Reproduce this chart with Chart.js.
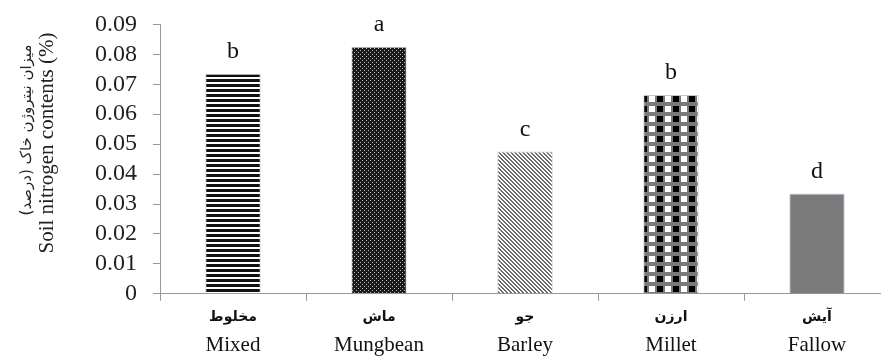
<!DOCTYPE html>
<html>
<head>
<meta charset="utf-8">
<script src="https://cdn.jsdelivr.net/npm/chart.js@4.4.0/dist/chart.umd.min.js"></script>
<style>
  html, body { margin: 0; padding: 0; background: #fff; overflow: hidden; }
  #wrap { width: 892px; height: 369px; margin-top: -6px; }
</style>
</head>
<body>
<div id="wrap"><canvas id="grafico"></canvas></div>
<script>
const rotulosFa = ['مخلوط', 'ماش', 'جو', 'ارزن', 'آیش'];
const rotulosEn = ['Mixed', 'Mungbean', 'Barley', 'Millet', 'Fallow'];
const nitrogenio = [0.0735, 0.0825, 0.0475, 0.0665, 0.0335];
const letras = ['b', 'a', 'c', 'b', 'd'];
const tituloFa = 'میزان نیتروژن خاک (درصد)';
const tituloEn = 'Soil nitrogen contents (%)';

// padrões de preenchimento (texturas em preto e branco)
function padrao(w, h, pintar) {
    const c = document.createElement('canvas');
    c.width = w; c.height = h;
    const g = c.getContext('2d');
    pintar(g, w, h);
    return g.createPattern(c, 'repeat');
}
const ctx = document.getElementById('grafico').getContext('2d');

const listras = padrao(1, 5, g => {
    g.fillStyle = '#fff'; g.fillRect(0, 0, 1, 5);
    g.fillStyle = '#111'; g.fillRect(0, 0, 1, 3);
});
const pontos = padrao(4, 4, g => {
    g.fillStyle = '#1a1a1a'; g.fillRect(0, 0, 4, 4);
    g.fillStyle = '#bbb'; g.fillRect(0, 0, 1, 1); g.fillRect(2, 2, 1, 1);
});
const diagonal = padrao(4, 4, g => {
    g.fillStyle = '#fff'; g.fillRect(0, 0, 4, 4);
    g.fillStyle = '#6a6a6a';
    for (let y = 0; y < 4; y++) {
        for (let x = 0; x < 4; x++) {
            const d = ((x - y) % 4 + 4) % 4;
            if (d < 2) g.fillRect(x, y, 1, 1);
        }
    }
});
const xadrez = padrao(16, 10, g => {
    g.fillStyle = '#7a7a7a'; g.fillRect(0, 0, 16, 10);
    g.fillStyle = '#000'; g.fillRect(1, 2, 6, 6);
    g.fillStyle = '#fff'; g.fillRect(9, 2, 6, 6);
});
const cinza = '#7b7b7b';

const letrasPlugin = {
    id: 'letras',
    afterDatasetsDraw(chart) {
        const c = chart.ctx;
        const meta = chart.getDatasetMeta(0);
        c.save();
        c.font = '24px "Liberation Serif"';
        c.fillStyle = '#111';
        c.textAlign = 'center';
        c.textBaseline = 'bottom';
        meta.data.forEach((bar, i) => {
            c.fillText(letras[i], bar.x, bar.y - 10);
        });
        c.restore();
    }
};

// segunda linha dos rótulos do eixo x (inglês)
const rotulosEnPlugin = {
    id: 'rotulosEn',
    afterDraw(chart) {
        const c = chart.ctx;
        const escala = chart.scales.x;
        const y = chart.chartArea.bottom + 52;
        c.save();
        c.font = '21px "Liberation Serif"';
        c.fillStyle = '#111';
        c.textAlign = 'center';
        c.textBaseline = 'middle';
        rotulosEn.forEach((r, i) => {
            c.fillText(r, escala.getPixelForTick(i), y);
        });
        c.restore();
    }
};

const tituloPlugin = {
    id: 'tituloY',
    afterDraw(chart) {
        const c = chart.ctx;
        c.save();
        c.fillStyle = '#222';
        c.textAlign = 'center';
        c.textBaseline = 'middle';
        c.translate(27, 136);
        c.rotate(-Math.PI / 2);
        c.font = '15px "DejaVu Sans"';
        c.fillText(tituloFa, 0, 0);
        c.restore();
        c.save();
        c.fillStyle = '#222';
        c.textAlign = 'center';
        c.textBaseline = 'middle';
        c.translate(47, 149);
        c.rotate(-Math.PI / 2);
        c.font = '21px "Liberation Serif"';
        c.fillText(tituloEn, 0, 0);
        c.restore();
    }
};

new Chart(ctx, {
    type: 'bar',
    data: {
        labels: rotulosFa,
        datasets: [{
            data: nitrogenio,
            backgroundColor: [listras, pontos, diagonal, xadrez, cinza],
            borderColor: 'rgba(175,195,230,0.7)',
            borderWidth: 1,
            categoryPercentage: 0.38,
            barPercentage: 1
        }]
    },
    options: {
        responsive: true,
        maintainAspectRatio: false,
        animation: false,
        layout: { padding: { left: 79, top: 0, right: 2, bottom: 30 } },
        plugins: {
            legend: { display: false },
            tooltip: { enabled: false }
        },
        scales: {
            x: {
                grid: { drawOnChartArea: false, color: '#999', tickLength: 7, offset: true },
                border: { color: '#999' },
                ticks: {
                    color: '#111',
                    padding: 7,
                    font: { family: '"DejaVu Sans"', size: 14, weight: 'bold', lineHeight: 1.3 },
                    maxRotation: 0
                }
            },
            y: {
                min: 0,
                max: 0.09,
                grid: { drawOnChartArea: false, color: '#999', tickLength: 7 },
                border: { color: '#999' },
                ticks: {
                    stepSize: 0.01,
                    autoSkip: false,
                    color: '#222',
                    padding: 16,
                    font: { family: '"Liberation Serif"', size: 24 },
                    callback: v => (Math.round(v * 100) / 100).toString()
                }
            }
        }
    },
    plugins: [letrasPlugin, rotulosEnPlugin, tituloPlugin]
});
</script>
</body>
</html>
